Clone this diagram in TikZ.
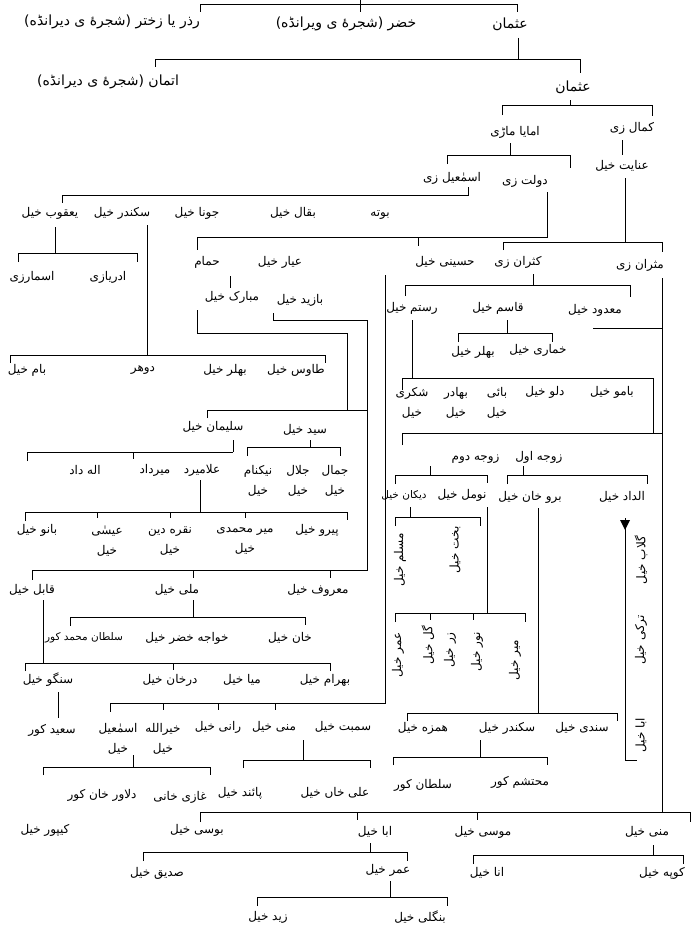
\documentclass[tikz,border=0pt]{standalone}
\usepackage{fontspec}
\newfontfamily\ar[Script=Arabic]{DejaVu Sans}
\TeXXeTstate=1
\newcommand\U[1]{\beginR #1\endR}
\begin{document}
\begin{tikzpicture}[x=1pt,y=-1pt, line width=1pt,
  nm/.style={font=\ar\fontsize{12}{20}\selectfont, inner sep=0.5pt, align=center},
  sm/.style={nm, font=\ar\fontsize{10.5}{18}\selectfont},
  big/.style={nm, font=\ar\fontsize{14}{20}\selectfont},
  rot/.style={nm, rotate=90}]
\useasboundingbox[fill=white] (0,0) rectangle (693,934);
% ---------- names ----------
\node[big] (a1) at (112,22) {\U{رذر یا زختر (شجرهٔ ی دیرانڈه)}};
\node[big] (a2) at (346,24) {\U{خضر (شجرهٔ ی ویرانڈه)}};
\node[big] (a3) at (510,24) {\U{عثمان}};
\node[big] (b1) at (108,82) {\U{اتمان (شجرهٔ ی دیرانڈه)}};
\node[big] (b2) at (573,87) {\U{عثمان}};
\node[nm] (c1) at (515,132) {\U{امایا ماڑی}};
\node[nm] (c2) at (632,128) {\U{کمال زی}};
\node[nm] (d1) at (622,166) {\U{عنایت خیل}};
\node[nm] (d2) at (452,178) {\U{اسمٰعیل زی}};
\node[nm] (d3) at (525,181) {\U{دولت زی}};
\node[nm] (e1) at (50,213) {\U{یعقوب خیل}};
\node[nm] (e2) at (122,213) {\U{سکندر خیل}};
\node[nm] (e3) at (197,213) {\U{جونا خیل}};
\node[nm] (e4) at (293,213) {\U{بقال خیل}};
\node[nm] (e5) at (380,215) {\U{بوته}};
\node[nm] (f1) at (32,277) {\U{اسمارزی}};
\node[nm] (f2) at (108,277) {\U{ادریازی}};
\node[nm] (f3) at (207,262) {\U{حمام}};
\node[nm] (f4) at (280,262) {\U{عیار خیل}};
\node[nm] (f5) at (445,262) {\U{حسینی خیل}};
\node[nm] (f6) at (518,262) {\U{کثران زی}};
\node[nm] (f7) at (640,265) {\U{مثران زی}};
\node[nm] (g1) at (232,297) {\U{مبارک خیل}};
\node[nm] (g2) at (300,300) {\U{بازید خیل}};
\node[nm] (g3) at (412,308) {\U{رستم خیل}};
\node[nm] (g4) at (498,308) {\U{قاسم خیل}};
\node[nm] (g5) at (595,310) {\U{معدود خیل}};
\node[nm] (h1) at (473,352) {\U{بھلر خیل}};
\node[nm] (h2) at (538,350) {\U{خماری خیل}};
\node[nm] (h3) at (27,370) {\U{بام خیل}};
\node[nm] (h4) at (143,370) {\U{دوهر}};
\node[nm] (h5) at (225,370) {\U{بھلر خیل}};
\node[nm] (h6) at (296,370) {\U{طاوس خیل}};
\node[nm] (k1) at (412,403) {\U{شکری}\\\U{خیل}};
\node[nm] (k2) at (456,403) {\U{بھادر}\\\U{خیل}};
\node[nm] (k3) at (497,403) {\U{بائی}\\\U{خیل}};
\node[nm] (k4) at (545,392) {\U{دلو خیل}};
\node[nm] (k5) at (612,392) {\U{بامو خیل}};
\node[nm] (i1) at (213,427) {\U{سلیمان خیل}};
\node[nm] (i2) at (305,430) {\U{سید خیل}};
\node[nm] (z1) at (507,457) {\U{زوجه اول \quad زوجه دوم}};
\node[nm] (j1) at (85,470) {\U{اله داد}};
\node[nm] (j2) at (155,470) {\U{میرداد}};
\node[nm] (j3) at (202,470) {\U{علامیرد}};
\node[nm] (j4) at (258,481) {\U{نیکنام}\\\U{خیل}};
\node[nm] (j5) at (298,481) {\U{جلال}\\\U{خیل}};
\node[nm] (j6) at (335,481) {\U{جمال}\\\U{خیل}};
\node[sm] (m1) at (404,495) {\U{دیکان خیل}};
\node[nm] (m2) at (462,495) {\U{نومل خیل}};
\node[nm] (m3) at (530,497) {\U{برو خان خیل}};
\node[nm] (m4) at (622,497) {\U{الداد خیل}};
\node[nm] (l1) at (37,530) {\U{بانو خیل}};
\node[nm] (l2) at (107,541) {\U{عیسٰی}\\\U{خیل}};
\node[nm] (l3) at (170,541) {\U{نقره دین}\\\U{خیل}};
\node[nm] (l4) at (245,541) {\U{میر محمدی}\\\U{خیل}};
\node[nm] (l5) at (317,530) {\U{پیرو خیل}};
\node[rot] (r1) at (400,560) {\U{مسلم خیل}};
\node[rot] (r2) at (455,550) {\U{بخت خیل}};
\node[nm] (n1) at (32,590) {\U{قابل خیل}};
\node[nm] (n2) at (177,590) {\U{ملی خیل}};
\node[nm] (n3) at (318,590) {\U{معروف خیل}};
\node[sm] (o1) at (84,638) {\U{سلطان محمد کور}};
\node[nm] (o2) at (187,638) {\U{خواجه خضر خیل}};
\node[nm] (o3) at (290,638) {\U{خان خیل}};
\node[rot] (r3) at (398,655) {\U{عمر خیل}};
\node[rot] (r4) at (428,645) {\U{گل خیل}};
\node[rot] (r5) at (450,650) {\U{زر خیل}};
\node[rot] (r6) at (477,652) {\U{نور خیل}};
\node[rot] (r7) at (515,660) {\U{میر خیل}};
\node[rot] (r8) at (641,560) {\U{گلاب خیل}};
\node[rot] (r9) at (641,640) {\U{ترکی خیل}};
\node[rot] (r10) at (641,735) {\U{ابا خیل}};
\node[nm] (p0) at (48,680) {\U{سنگو خیل}};
\node[nm] (p1) at (170,680) {\U{درخان خیل}};
\node[nm] (p2) at (242,680) {\U{میا خیل}};
\node[nm] (p3) at (325,680) {\U{بهرام خیل}};
\node[nm] (q1) at (52,730) {\U{سعید کور}};
\node[nm] (q2) at (118,739) {\U{اسمٰعیل}\\\U{خیل}};
\node[nm] (q3) at (163,739) {\U{خیرالله}\\\U{خیل}};
\node[nm] (q4) at (218,727) {\U{رانی خیل}};
\node[nm] (q5) at (274,727) {\U{منی خیل}};
\node[nm] (q6) at (343,727) {\U{سمبت خیل}};
\node[nm] (q7) at (423,728) {\U{ھمزه خیل}};
\node[nm] (q8) at (507,728) {\U{سکندر خیل}};
\node[nm] (q9) at (582,728) {\U{سندی خیل}};
\node[nm] (s1) at (102,795) {\U{دلاور خان کور}};
\node[nm] (s2) at (180,797) {\U{غازی خانی}};
\node[nm] (s3) at (240,793) {\U{پائند خیل}};
\node[nm] (s4) at (335,793) {\U{علی خاں خیل}};
\node[nm] (s5) at (423,785) {\U{سلطان کور}};
\node[nm] (s6) at (520,782) {\U{محتشم کور}};
\node[nm] (t1) at (45,830) {\U{کیپور خیل}};
\node[nm] (t2) at (197,830) {\U{بوسی خیل}};
\node[nm] (t3) at (375,832) {\U{ابا خیل}};
\node[nm] (t4) at (483,832) {\U{موسی خیل}};
\node[nm] (t5) at (647,832) {\U{منی خیل}};
\node[nm] (u1) at (157,873) {\U{صدیق خیل}};
\node[nm] (u2) at (388,870) {\U{عمر خیل}};
\node[nm] (u3) at (487,873) {\U{انا خیل}};
\node[nm] (u4) at (662,873) {\U{کوپه خیل}};
\node[nm] (v1) at (268,917) {\U{زید خیل}};
\node[nm] (v2) at (420,917) {\U{بنگلی خیل}};
% ---------- lines ----------
\draw (200,12)--(200,5)--(517,5)--(517,12); \draw (360,0)--(360,12);
\draw (518,38)--(518,60); \draw (155,67)--(155,60)--(580,60)--(580,73);
\draw (570,100)--(570,105); \draw (502,115)--(502,105)--(652,105)--(652,116);
\draw (622,140)--(622,155);
\draw (510,143)--(510,155); \draw (447,164)--(447,155)--(570,155)--(570,168);
\draw (468,187)--(468,195)--(62,195)--(62,203);
\draw (547,192)--(547,237)--(197,237)--(197,250); \draw (418,237)--(418,246);
\draw (625,178)--(625,242); \draw (503,250)--(503,242)--(662,242)--(662,252);
\draw (533,274)--(533,285); \draw (405,296)--(405,285)--(630,285)--(630,297);
\draw (507,320)--(507,333); \draw (458,342)--(458,333)--(552,333)--(552,342);
\draw (412,320)--(412,378); \draw (402,390)--(402,378)--(653,378)--(653,433);
\draw (593,328)--(662,328);
\draw (402,445)--(402,433)--(662,433);
\draw (430,466)--(430,475); \draw (395,484)--(395,475)--(487,475)--(487,483);
\draw (523,466)--(523,475); \draw (507,484)--(507,475)--(647,475)--(647,484);
\draw (410,507)--(410,517); \draw (395,526)--(395,517)--(480,517)--(480,526);
\draw (487,507)--(487,613); \draw (395,622)--(395,613)--(525,613)--(525,622);
\draw (430,613)--(430,620); \draw (473,613)--(473,620);
\draw (538,508)--(538,713); \draw (407,721)--(407,713)--(617,713)--(617,721);
\draw (625,518)--(625,760)--(637,760);
\fill (620,520)--(630,520)--(625,530)--cycle;
\draw (385,275)--(385,703)--(110,703)--(110,712);
\draw (163,703)--(163,710); \draw (218,703)--(218,710); \draw (275,703)--(275,710);
\draw (273,313)--(273,320)--(367,320)--(367,570)--(32,570)--(32,580);
\draw (193,570)--(193,578); \draw (330,570)--(330,578);
\draw (197,310)--(197,333)--(347,333)--(347,410);
\draw (207,418)--(207,410)--(367,410);
\draw (233,440)--(233,452); \draw (27,461)--(27,452)--(233,452);
\draw (133,452)--(133,459);
\draw (310,440)--(310,447); \draw (247,456)--(247,447)--(340,447)--(340,456);
\draw (200,480)--(200,512); \draw (25,521)--(25,512)--(347,512)--(347,520);
\draw (97,512)--(97,518); \draw (170,512)--(170,518); \draw (245,512)--(245,518);
\draw (193,600)--(193,617); \draw (70,626)--(70,617)--(305,617)--(305,625);
\draw (43,600)--(43,663); \draw (25,671)--(25,663)--(330,663)--(330,671);
\draw (173,663)--(173,670);
\draw (58,692)--(58,718);
\draw (133,755)--(133,767); \draw (43,775)--(43,767)--(210,767)--(210,775);
\draw (303,740)--(303,760); \draw (243,768)--(243,760)--(370,760)--(370,768);
\draw (480,740)--(480,757); \draw (393,765)--(393,757)--(547,757)--(547,765);
\draw (662,278)--(662,812); \draw (200,822)--(200,812)--(690,812)--(690,822);
\draw (357,812)--(357,820); \draw (477,812)--(477,820);
\draw (370,843)--(370,852); \draw (143,861)--(143,852)--(407,852)--(407,861);
\draw (390,881)--(390,897); \draw (257,906)--(257,897)--(447,897)--(447,906);
\draw (653,845)--(653,855); \draw (473,864)--(473,855)--(683,855)--(683,864);
\draw (55,227)--(55,253); \draw (18,262)--(18,253)--(137,253)--(137,262);
\draw (147,225)--(147,355); \draw (10,363)--(10,355)--(325,355)--(325,363);
\draw (230,276)--(230,288);
\end{tikzpicture}
\end{document}
